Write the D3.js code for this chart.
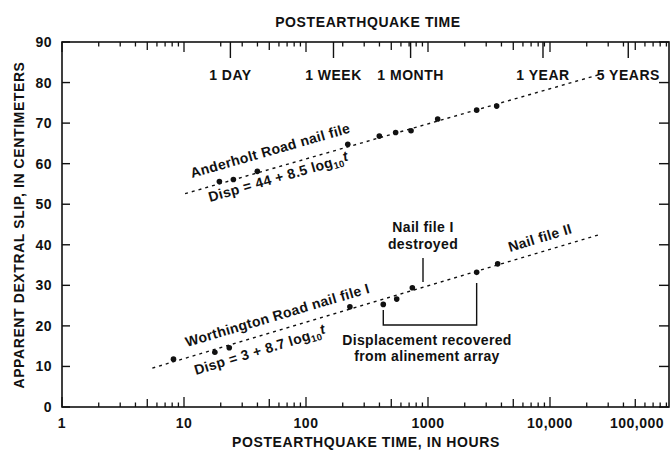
<!DOCTYPE html>
<html lang="en">
<head>
<meta charset="utf-8">
<title>postearthquake slip</title>
<script src="https://d3js.org/d3.v7.min.js"></script>
<style>
  body{margin:0;background:#fff;}
  svg{font-family:"Liberation Sans",Arial,Helvetica,sans-serif;font-weight:bold;}
  .lbl{font-size:14px;letter-spacing:0.5px;fill:#111;}
  .note{font-size:14px;letter-spacing:0.35px;fill:#111;}
</style>
</head>
<body>
<div id="chart"></div>
<script>
// values
var anderholtHours = [19.5, 25.4, 39.9, 220, 399, 543, 726, 1200, 2505, 3655]
var anderholtSlip  = [55.6, 56.1, 58.1, 64.8, 66.8, 67.7, 68.1, 71.0, 73.2, 74.2]
var worthingtonHours = [8.2, 17.9, 23.5, 229, 430, 554, 744, 2505, 3725]
var worthingtonSlip  = [11.8, 13.5, 14.6, 24.7, 25.3, 26.6, 29.4, 33.2, 35.3]
// fitted lines, end points
var anderholtFitHours = [10.2, 27000]
var anderholtFitSlip  = [52.6, 82.2]
var worthingtonFitHours = [5.5, 26000]
var worthingtonFitSlip  = [9.6, 42.6]

var slipTicks = [0, 10, 20, 30, 40, 50, 60, 70, 80, 90]
var hourTicks = [1, 10, 100, 1000, 10000, 100000]
var hourTickLabels = ["1", "10", "100", "1000", "10,000", "100,000"]
var timeMarks = [24, 168, 720, 8760, 43800]
var timeMarkLabels = ["1 DAY", "1 WEEK", "1 MONTH", "1 YEAR", "5 YEARS"]

var w = 670, h = 455
var pLeft = 62, pRight = 669, pTop = 42, pBottom = 407

var xScale = d3.scaleLog().domain([1, 100000]).range([pLeft, 672])
var yScale = d3.scaleLinear().domain([0, 90]).range([pBottom, pTop])
var xMax = xScale.invert(pRight)

var svg = d3.select("#chart").append("svg").attr("width", w).attr("height", h)

// frame
svg.append("rect")
  .attr("x", pLeft).attr("y", pTop)
  .attr("width", pRight - pLeft).attr("height", pBottom - pTop)
  .attr("fill", "none").attr("stroke", "#111").attr("stroke-width", 1.6)

// log minor ticks, bottom (up) and top (down)
var minor = []
for (var d = 1; d <= 10000; d *= 10) {
  for (var k = 1; k <= 9; k++) {
    if (d * k <= xMax) minor.push({v: d * k, k: k})
  }
}
function tickLen(t){ return t.k == 1 ? 10 : (t.k == 5 ? 8 : 4.5) }

svg.selectAll(".bt").data(minor).enter().append("line")
  .attr("x1", function(t){ return xScale(t.v) }).attr("x2", function(t){ return xScale(t.v) })
  .attr("y1", pBottom).attr("y2", function(t){ return pBottom - tickLen(t) })
  .attr("stroke", "#111").attr("stroke-width", 1.3)

svg.selectAll(".tt").data(minor).enter().append("line")
  .attr("x1", function(t){ return xScale(t.v) }).attr("x2", function(t){ return xScale(t.v) })
  .attr("y1", pTop).attr("y2", function(t){ return pTop + tickLen(t) })
  .attr("stroke", "#111").attr("stroke-width", 1.3)

// long ticks for day / week / month / year
svg.selectAll(".mt").data(timeMarks).enter().append("line")
  .attr("x1", function(v){ return xScale(v) }).attr("x2", function(v){ return xScale(v) })
  .attr("y1", pTop).attr("y2", pTop + 16)
  .attr("stroke", "#111").attr("stroke-width", 1.4)

svg.selectAll(".ml").data(timeMarks).enter().append("text")
  .attr("class", "lbl")
  .attr("x", function(v){ return xScale(v) })
  .attr("y", 80)
  .attr("text-anchor", "middle")
  .text(function(v, i){ return timeMarkLabels[i] })

// y ticks both sides
svg.selectAll(".yl").data(slipTicks).enter().append("line")
  .attr("x1", pLeft).attr("x2", pLeft + 8)
  .attr("y1", function(v){ return yScale(v) }).attr("y2", function(v){ return yScale(v) })
  .attr("stroke", "#111").attr("stroke-width", 1.4)
svg.selectAll(".yr").data(slipTicks).enter().append("line")
  .attr("x1", pRight).attr("x2", pRight - 10)
  .attr("y1", function(v){ return yScale(v) }).attr("y2", function(v){ return yScale(v) })
  .attr("stroke", "#111").attr("stroke-width", 1.4)

svg.selectAll(".ytl").data(slipTicks).enter().append("text")
  .attr("class", "lbl")
  .attr("x", 52).attr("y", function(v){ return yScale(v) + 5 })
  .attr("text-anchor", "end")
  .text(function(v){ return v })

svg.selectAll(".xtl").data(hourTicks).enter().append("text")
  .attr("class", "lbl")
  .attr("x", function(v){ return Math.min(xScale(v), pRight - 32) })
  .attr("y", 428)
  .attr("text-anchor", "middle")
  .text(function(v, i){ return hourTickLabels[i] })

// axis titles
svg.append("text").attr("class", "lbl").style("letter-spacing", "0.6px")
  .attr("x", 368).attr("y", 27).attr("text-anchor", "middle")
  .text("POSTEARTHQUAKE TIME")
svg.append("text").attr("class", "lbl").style("letter-spacing", "0.6px")
  .attr("x", 366).attr("y", 447).attr("text-anchor", "middle")
  .text("POSTEARTHQUAKE TIME, IN HOURS")
svg.append("text").attr("class", "lbl").style("letter-spacing", "0.6px")
  .attr("transform", "translate(23.5,225) rotate(-90)")
  .attr("text-anchor", "middle")
  .text("APPARENT DEXTRAL SLIP, IN CENTIMETERS")

// fitted lines
var line = d3.line().x(function(p){ return xScale(p[0]) }).y(function(p){ return yScale(p[1]) })
var fits = [d3.zip(anderholtFitHours, anderholtFitSlip), d3.zip(worthingtonFitHours, worthingtonFitSlip)]
svg.selectAll(".fit").data(fits).enter().append("path")
  .attr("d", line)
  .attr("fill", "none").attr("stroke", "#111")
  .attr("stroke-width", 1.4).attr("stroke-dasharray", "3,4")

// points
var pts = d3.zip(anderholtHours, anderholtSlip).concat(d3.zip(worthingtonHours, worthingtonSlip))
svg.selectAll(".pt").data(pts).enter().append("circle")
  .attr("cx", function(p){ return xScale(p[0]) })
  .attr("cy", function(p){ return yScale(p[1]) })
  .attr("r", 2.8).attr("fill", "#111")

// rotated labels
function note(x, y, ang, txt){
  return svg.append("text").attr("class", "note")
    .attr("transform", "translate(" + x + "," + y + ") rotate(" + ang + ")")
    .text(txt)
}
function dispNote(x, y, ang, txt){
  var t = note(x, y, ang, txt)
  t.append("tspan").attr("font-size", "9.5px").attr("dy", 3).text("10")
  t.append("tspan").attr("font-style", "italic").attr("dy", -5).text("t")
}
note(192, 178, -16, "Anderholt Road nail file")
dispNote(210, 202, -16, "Disp = 44 + 8.5 log")
note(187, 347, -16.5, "Worthington Road nail file I")
dispNote(196, 375, -17, "Disp = 3 + 8.7 log")
note(510, 252, -17, "Nail file II")

svg.append("text").attr("class", "note").attr("x", 423).attr("y", 232)
  .attr("text-anchor", "middle").text("Nail file I")
svg.append("text").attr("class", "note").attr("x", 423).attr("y", 249)
  .attr("text-anchor", "middle").text("destroyed")
svg.append("line").attr("x1", 423).attr("x2", 423).attr("y1", 258).attr("y2", 282)
  .attr("stroke", "#111").attr("stroke-width", 1.4)

// bracket for recovered displacement
var bx1 = xScale(worthingtonHours[4]), bx2 = xScale(worthingtonHours[7])
svg.append("path")
  .attr("d", "M" + bx1 + ",310 V325 H" + bx2 + " V283")
  .attr("fill", "none").attr("stroke", "#111").attr("stroke-width", 1.4)
svg.append("text").attr("class", "note").attr("x", 427).attr("y", 345)
  .attr("text-anchor", "middle").text("Displacement recovered")
svg.append("text").attr("class", "note").attr("x", 427).attr("y", 361)
  .attr("text-anchor", "middle").text("from alinement array")
</script>
</body>
</html>
